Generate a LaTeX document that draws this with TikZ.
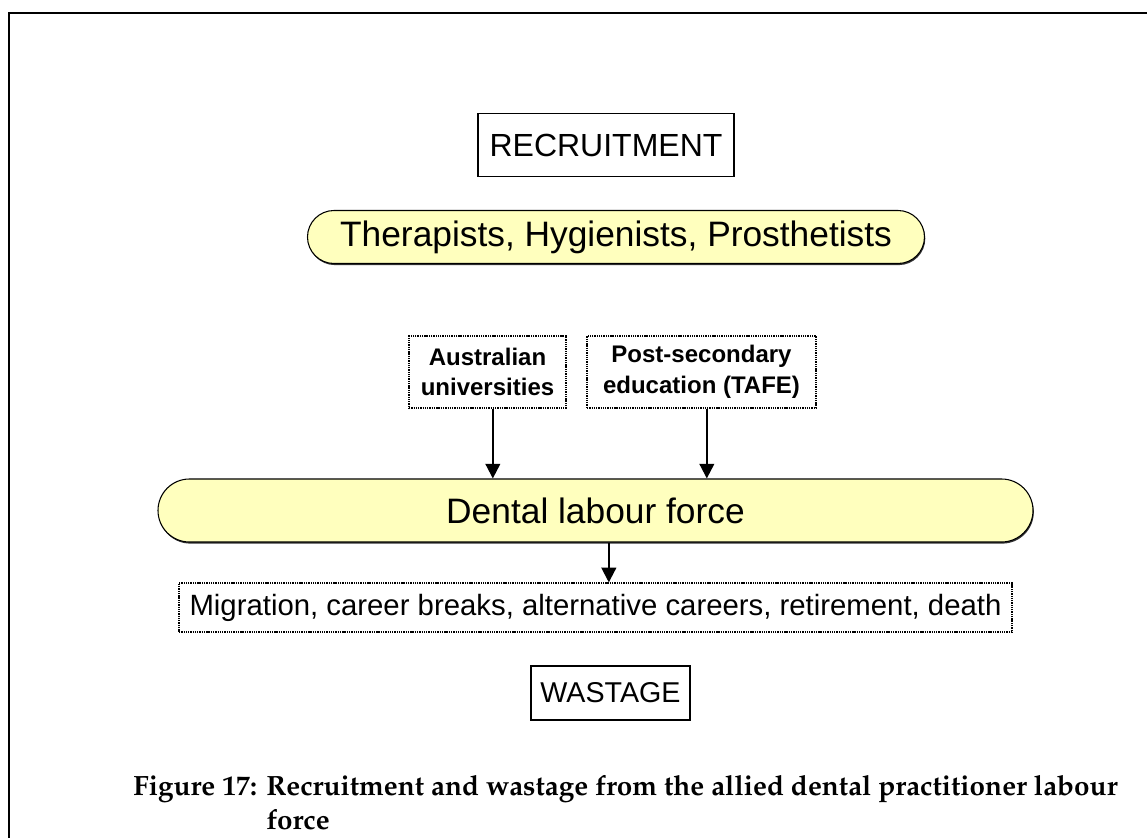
\documentclass[tikz,border=0pt]{standalone}
\usepackage[T1]{fontenc}
\usepackage{fontspec}
\newfontfamily\arialfont{Liberation Sans}
\usetikzlibrary{arrows.meta,shadows}
\definecolor{pillyellow}{RGB}{255,255,190}

\begin{document}
\begin{tikzpicture}[x=0.75pt,y=-0.75pt,
  pill/.style={draw=black, line width=0.8pt, fill=pillyellow, inner sep=0pt,
    drop shadow={shadow xshift=0.6pt, shadow yshift=-1.2pt, fill=black!80, opacity=1},
    font=\arialfont\fontsize{26.5}{30}\selectfont},
  dotbox/.style={draw=black, line width=0.9pt, dash pattern=on 1pt off 0.7pt, inner sep=0pt, align=center},
  titlebox/.style={draw=black, line width=1.4pt, inner sep=0pt},
  flow/.style={line width=1.5pt, -{Triangle[width=11pt,length=11pt]}},
  capfont/.style={font=\usefont{T1}{ppl}{b}{n}\fontsize{20.9}{25}\selectfont, inner sep=0pt}]
\useasboundingbox (0,0) rectangle (1147,838);
\draw[line width=1.5pt] (9,838) -- (9,13) -- (1147,13);

\node[titlebox, minimum width=192pt, minimum height=47.25pt,
  font=\arialfont\fontsize{24}{28}\selectfont] (recruit) at (606,145) {RECRUITMENT};

\node[pill, rounded corners=19.9pt, minimum width=462.75pt, minimum height=39.75pt] (therap) at (616,237)
  {Therapists, Hygienists, Prosthetists};

\node[dotbox, minimum width=117.75pt, minimum height=54pt,
  font=\arialfont\bfseries\fontsize{18}{23}\selectfont] (univ) at (487.5,372) {Australian\\universities};
\node[dotbox, minimum width=171.75pt, minimum height=54pt,
  font=\arialfont\bfseries\fontsize{18}{23}\selectfont] (tafe) at (701.5,372) {Post-secondary\\education (TAFE)};

\node[pill, rounded corners=23.6pt, minimum width=656.25pt, minimum height=47.25pt] (labour) at (595.5,510.5)
  {Dental labour force};

\node[dotbox, minimum width=624.75pt, minimum height=36.75pt,
  font=\arialfont\fontsize{22}{26}\selectfont] (loss) at (595.5,607.5)
  {Migration, career breaks, alternative careers, retirement, death};

\node[titlebox, minimum width=119.25pt, minimum height=40.5pt,
  font=\arialfont\fontsize{21.5}{26}\selectfont] (wastage) at (610.5,693) {WASTAGE};

% arrows
\draw[flow] ([xshift=4pt]univ.south) -- ([xshift=4pt]univ.south |- labour.north);
\draw[flow] ([xshift=4pt]tafe.south) -- ([xshift=4pt]tafe.south |- labour.north);
\draw[flow] ([xshift=10pt]labour.south) -- ([xshift=10pt]labour.south |- loss.north);

% caption
\node[capfont, anchor=base west] (fignum) at (133,795) {Figure 17:};
\node[capfont, anchor=base west] (captext) at (266,795)
  {Recruitment and wastage from the allied dental practitioner labour};
\node[capfont, anchor=base west] (captextb) at (266,829) {force};

\end{tikzpicture}
\end{document}
